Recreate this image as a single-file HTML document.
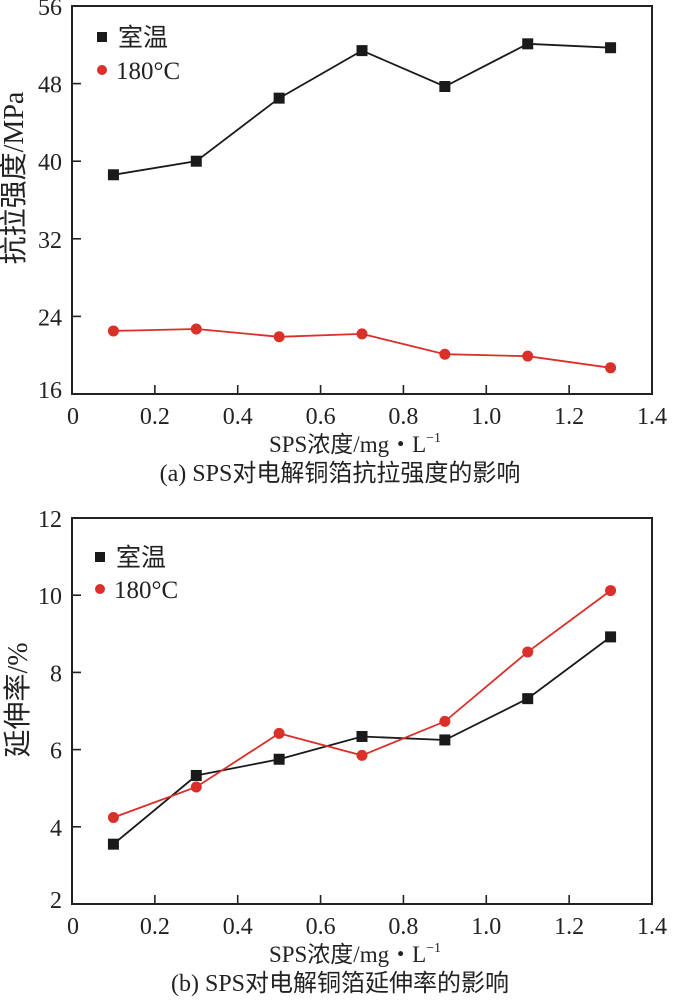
<!DOCTYPE html>
<html><head><meta charset="utf-8">
<style>
html,body{margin:0;padding:0;background:#fff;}
svg{display:block;}
text{font-family:"Liberation Serif","Noto Sans CJK SC",serif;fill:#222;}
</style></head>
<body>
<svg id="fig" width="677" height="1005" viewBox="0 0 677 1005" xmlns="http://www.w3.org/2000/svg">
  <g id="chartA"></g>
  <g id="chartB"></g>
</svg>
<script>
const xValues = [0.1, 0.3, 0.5, 0.7, 0.9, 1.1, 1.3];
const xTicks = [0, 0.2, 0.4, 0.6, 0.8, 1.0, 1.2, 1.4];
const xTickLabels = ["0", "0.2", "0.4", "0.6", "0.8", "1.0", "1.2", "1.4"];
const strengthRoom = [38.6, 40.0, 46.5, 51.4, 47.7, 52.1, 51.7];
const strength180 = [22.5, 22.7, 21.9, 22.2, 20.1, 19.9, 18.7];
const strengthTicks = [16, 24, 32, 40, 48, 56];
const elongRoom = [3.55, 5.33, 5.75, 6.34, 6.25, 7.32, 8.92];
const elong180 = [4.24, 5.03, 6.42, 5.85, 6.73, 8.53, 10.12];
const elongTicks = [2, 4, 6, 8, 10, 12];
const seriesNames = ["室温", "180°C"];

const NS = "http://www.w3.org/2000/svg";
function mk(parent, tag, attrs, txt) {
  const e = document.createElementNS(NS, tag);
  for (const k in attrs) e.setAttribute(k, attrs[k]);
  if (txt !== undefined) e.textContent = txt;
  parent.appendChild(e);
  return e;
}

function drawChart(g, cfg) {
  const L = 72, R = 652, T = cfg.top, B = cfg.bottom;
  const sx = v => L + (v - 0) / 1.4 * (R - L);
  const sy = v => B - (v - cfg.ymin) / (cfg.ymax - cfg.ymin) * (B - T);
  const frame = mk(g, "rect", {x: L, y: T, width: R - L, height: B - T, fill: "none", stroke: "#222", "stroke-width": 2});
  
  
  xTicks.forEach((t, i) => {
    if (i > 0 && i < xTicks.length - 1) {
      const tk = mk(g, "line", {x1: sx(t), x2: sx(t), y1: B, y2: B - 9, stroke: "#222", "stroke-width": 1.6});
      
      
    }
    const lb = mk(g, "text", {x: sx(t) + (i === 0 ? 1 : 0), y: B + 30, "font-size": 24, "text-anchor": "middle"}, xTickLabels[i]);
    
    
  });
  cfg.yTicks.forEach((t, i) => {
    if (i > 0 && i < cfg.yTicks.length - 1) {
      const tk = mk(g, "line", {x1: L, x2: L + 9, y1: sy(t), y2: sy(t), stroke: "#222", "stroke-width": 1.6});
      
      
    }
    const off = i === 0 ? 4 : 9;
    const lb = mk(g, "text", {x: 62, y: sy(t) + off, "font-size": 24, "text-anchor": "end"}, String(t));
    
    
  });
  const series = [{vals: cfg.room, color: "#1a1a1a", square: true, name: "series-room-temp"},
                  {vals: cfg.hot, color: "#d9302a", square: false, name: "series-180c"}];
  series.forEach(s => {
    const pts = s.vals.map((v, i) => sx(xValues[i]).toFixed(1) + "," + sy(v).toFixed(1)).join(" ");
    const pl = mk(g, "polyline", {points: pts, fill: "none", stroke: s.color, "stroke-width": 1.8});
    
    
    s.vals.forEach((v, i) => {
      let m;
      if (s.square) m = mk(g, "rect", {x: sx(xValues[i]) - 5.5, y: sy(v) - 5.5, width: 11, height: 11, fill: s.color});
      else m = mk(g, "circle", {cx: sx(xValues[i]), cy: sy(v), r: 5.5, fill: s.color});
      
      
    });
  });
  const lg = mk(g, "g", {});
  
  
  const r1 = mk(lg, "rect", {x: cfg.legX - 5, y: cfg.legY1 - 5, width: 10, height: 10, fill: "#1a1a1a"});
  
  
  const t1 = mk(lg, "text", {x: cfg.legX + 16, y: cfg.legY1 + 9, "font-size": 25}, seriesNames[0]);
  
  
  const c2 = mk(lg, "circle", {cx: cfg.legX, cy: cfg.legY2, r: 5, fill: "#d9302a"});
  
  
  const t2 = mk(lg, "text", {x: cfg.legX + 14, y: cfg.legY2 + 9, "font-size": 25}, seriesNames[1]);
  
  
  const yt = mk(g, "text", {x: 0, y: 0, "font-size": cfg.ytSize, "text-anchor": "middle", transform: `translate(${cfg.ytX},${cfg.ytY}) rotate(-90)`}, cfg.yTitle);
  
  
  const xt = mk(g, "text", {x: 355, y: B + 58, "font-size": 23, "text-anchor": "middle"});
  
  
  xt.textContent = "SPS浓度/mg・L";
  mk(xt, "tspan", {"font-size": 14, dy: -10}, "−1");
  const cap = mk(g, "text", {x: 340, y: B + 87, "font-size": 24, "text-anchor": "middle"}, cfg.caption);
  
  
}

drawChart(document.getElementById("chartA"), {
  top: 6, bottom: 394, ymin: 16, ymax: 56, yTicks: strengthTicks,
  room: strengthRoom, hot: strength180, legX: 102, legY1: 37, legY2: 70,
  yTitle: "抗拉强度/MPa", ytX: 23, ytY: 178, ytSize: 28, caption: "(a) SPS对电解铜箔抗拉强度的影响"
});
drawChart(document.getElementById("chartB"), {
  top: 518, bottom: 904, ymin: 2, ymax: 12, yTicks: elongTicks,
  room: elongRoom, hot: elong180, legX: 100, legY1: 557, legY2: 589,
  yTitle: "延伸率/%", ytX: 27, ytY: 700, ytSize: 28, caption: "(b) SPS对电解铜箔延伸率的影响"
});
</script>
</body></html>
